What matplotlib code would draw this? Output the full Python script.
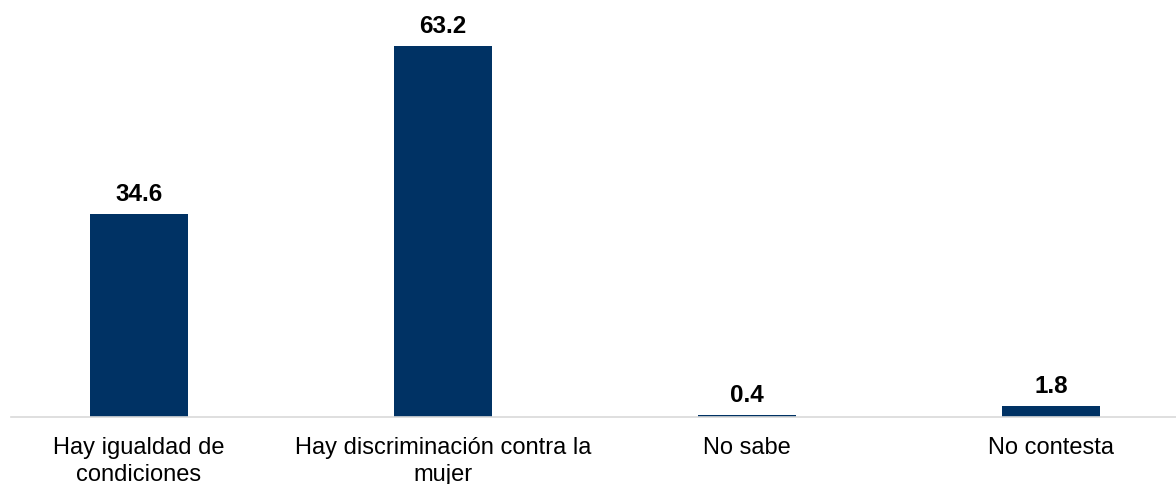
import matplotlib.pyplot as plt

# Data
categories = ['Hay igualdad de\ncondiciones', 'Hay discriminación contra la\nmujer',
              'No sabe', 'No contesta']
values = [34.6, 63.2, 0.4, 1.8]

plt.rcParams['font.family'] = ['Liberation Sans', 'DejaVu Sans']

fig = plt.figure(figsize=(11.76, 4.85), dpi=100)
ax = fig.add_axes([11/1176, 67/485, 1 - 11/1176, 418/485])

x = list(range(len(categories)))
bars = ax.bar(x, values, width=0.32, color='#003264')

for xi, v in zip(x, values):
    ax.annotate(f'{v:.1f}', (xi, v), xytext=(0, 6.5), textcoords='offset points',
                ha='center', va='bottom', fontsize=17.5, fontweight='bold', color='#000000')

ax.set_xlim(-0.421, 3.411)
ax.set_ylim(0, 71.2)
ax.set_xticks(x)
ax.set_xticklabels(categories, fontsize=17, color='#000000', linespacing=1.25)
ax.tick_params(axis='x', length=0, pad=14)
ax.set_yticks([])
for side in ['top', 'right', 'left']:
    ax.spines[side].set_visible(False)
ax.spines['bottom'].set_color('#d9d9d9')
ax.spines['bottom'].set_linewidth(1.2)

fig.savefig('out.png', dpi=100)
